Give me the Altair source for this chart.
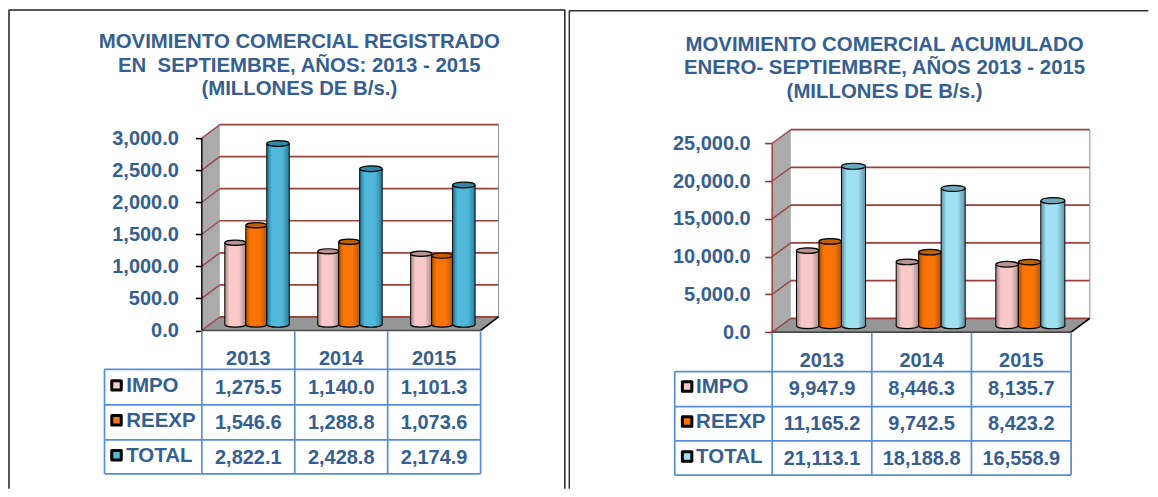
import altair as alt
import pandas as pd

YEARS = ["2013", "2014", "2015"]
SERIES = ["IMPO", "REEXP", "TOTAL"]

LEFT_IMPO = [1275.5, 1140.0, 1101.3]
LEFT_REEXP = [1546.6, 1288.8, 1073.6]
LEFT_TOTAL = [2822.1, 2428.8, 2174.9]
LEFT_TICKS = [0, 500, 1000, 1500, 2000, 2500, 3000]
LEFT_TITLE = ["MOVIMIENTO COMERCIAL REGISTRADO", "EN \u00a0SEPTIEMBRE, AÑOS: 2013 - 2015", "(MILLONES DE B/s.)"]

RIGHT_IMPO = [9947.9, 8446.3, 8135.7]
RIGHT_REEXP = [11165.2, 9742.5, 8423.2]
RIGHT_TOTAL = [21113.1, 18188.8, 16558.9]
RIGHT_TICKS = [0, 5000, 10000, 15000, 20000, 25000]
RIGHT_TITLE = ["MOVIMIENTO COMERCIAL ACUMULADO", "ENERO- SEPTIEMBRE, AÑOS 2013 - 2015", "(MILLONES DE B/s.)"]

FONT = "Liberation Sans"
BLUE = "#365F91"
GRID = "#953735"
TABLE = "#558ED5"
TOP_PX, BOT_PX = 120, 340


def grad(edge_l, mid, edge_r):
    return alt.Gradient(
        gradient="linear", x1=0, x2=1, y1=0, y2=0,
        stops=[
            alt.GradientStop(offset=0, color=edge_l),
            alt.GradientStop(offset=0.22, color=mid),
            alt.GradientStop(offset=0.68, color=mid),
            alt.GradientStop(offset=1, color=edge_r),
        ],
    )


def panel(g):
    left, w = g["left"], g["width"]
    h = BOT_PX - TOP_PX
    colw = w / 3
    k = (g["y0"] - g["ymax"]) / g["vmax"]

    def X(px):
        return (px - left) / colw

    def V(py):
        return (g["y0"] - py) / k

    xs = alt.Scale(domain=[0, 3], nice=False, zero=False)
    ys = alt.Scale(domain=[V(BOT_PX), V(TOP_PX)], nice=False, zero=False)
    yaxis = alt.Axis(
        values=g["ticks"], format=",.1f", domain=False, grid=False, title=None,
        tickColor=g["axis_color"], tickWidth=1.6, tickSize=g["tick"], labelPadding=g["pad"],
        labelFont=FONT, labelFontSize=20, labelFontWeight="bold", labelColor=BLUE,
        labelOverlap=False, labelFlush=False, labelBound=False,
    )
    ex = alt.X("x:Q", scale=xs, axis=None)
    ey = alt.Y("y:Q", scale=ys, axis=yaxis, title=None)

    dx, dy = g["dx"], g["dy"]
    right = left + w
    layers = []

    def lines(rows, color, width, opacity=1.0):
        df = pd.DataFrame(rows, columns=["x", "y", "g"])
        return alt.Chart(df).mark_line(color=color, strokeWidth=width, opacity=opacity, clip=False,
                                       strokeJoin="bevel").encode(
            x=ex, y=ey, detail="g:N", order="o:Q"
        ).transform_window(o="row_number()", groupby=["g"])

    # side wall
    wall = pd.DataFrame({
        "x": [X(left), X(left + dx)],
        "y": [V(g["ymax"]), V(g["ymax"] - dy)],
        "y2": [V(g["y0"]), V(g["y0"] - dy)],
    })
    layers.append(alt.Chart(wall).mark_area(color="#ABABAB", clip=False).encode(x=ex, y=ey, y2="y2:Q"))
    # floor
    floor = pd.DataFrame({
        "x": [X(left), X(left + dx), X(right), X(right + dx)],
        "y": [V(g["y0"]), V(g["y0"] - dy), V(g["y0"] - dy), V(g["y0"] - dy)],
        "y2": [V(g["y0"]), V(g["y0"]), V(g["y0"]), V(g["y0"] - dy)],
    })
    layers.append(alt.Chart(floor).mark_area(color="#969696", clip=False).encode(x=ex, y=ey, y2="y2:Q"))

    # back wall grid lines and their diagonals
    back, diag = [], []
    for i, t in enumerate(g["ticks"]):
        py = g["y0"] - t * k
        back += [(X(left + dx), V(py - dy), i), (X(right + dx), V(py - dy), i)]
        diag += [(X(left), V(py), i), (X(left + dx), V(py - dy), i)]
    layers.append(lines(back, GRID, 1.7, 0.95))
    layers.append(lines(diag, GRID, 1.4, 0.85))
    layers.append(lines(
        [(X(right + dx), V(g["ymax"] - dy), 0), (X(right + dx), V(g["y0"] - dy), 0)],
        "#8C8C8C", 1.0))
    # front axis line, floor edges
    layers.append(lines([(X(left), V(g["ymax"]), 0), (X(left), V(g["y0"]), 0)], g["axis_color"], 1.4))
    layers.append(lines([(X(left), V(g["y0"]), 0), (X(right), V(g["y0"]), 0)], "#4A4A4A", 1.6))
    layers.append(lines([(X(right), V(g["y0"]), 0), (X(right + dx), V(g["y0"] - dy), 0)], "black", 1.6))

    # cylinders, back to front in drawing order
    CAP = "M-1,0 A1,0.25 0 1 1 1,0 A1,0.25 0 1 1 -1,0 Z"
    base_v = V(g["base"])
    for si, s in enumerate(SERIES):
        style = g["styles"][si]
        x0, x1 = style["span"]
        df = pd.DataFrame({
            "i": range(3),
            "v": g["values"][si],
        })
        df["x"] = df["i"] + X(left + x0)
        df["x2"] = df["i"] + X(left + x1)
        df["xm"] = (df["x"] + df["x2"]) / 2
        df["y"] = base_v + df["v"]
        df["y2"] = base_v
        df["b"] = base_v
        fill = grad(*style["grad"])
        size = (x1 - x0) ** 2
        emx = alt.X("xm:Q", scale=xs, axis=None)
        layers.append(alt.Chart(df).mark_point(shape=CAP, size=size, filled=True, fill=fill, stroke="black",
                                               strokeWidth=1.2, opacity=1, clip=False).encode(
            x=emx, y=alt.Y("b:Q", scale=ys, axis=yaxis, title=None)))
        layers.append(alt.Chart(df).mark_rect(fill=fill, clip=False).encode(x=ex, x2="x2:Q", y=ey, y2="y2:Q"))
        layers.append(alt.Chart(df).mark_rule(color="black", strokeWidth=1.0, clip=False).encode(x=ex, y=ey, y2="y2:Q"))
        layers.append(alt.Chart(df).mark_rule(color="black", strokeWidth=1.0, clip=False).encode(
            x=alt.X("x2:Q", scale=xs, axis=None), y=ey, y2="y2:Q"))
        layers.append(alt.Chart(df).mark_point(shape=CAP, size=size, filled=True, fill=style["cap"], stroke="black",
                                               strokeWidth=1.2, opacity=1, clip=False).encode(x=emx, y=ey))

    # data table grid
    rules = []
    for c in range(4):
        rules.append({"x": float(c), "x2": float(c), "y": V(g["y0"] + 1), "y2": V(g["rows"][-1])})
    for r in g["rows"]:
        rules.append({"x": X(g["tleft"]), "x2": 3.0, "y": V(r), "y2": V(r)})
    rules.append({"x": X(g["tleft"]), "x2": X(g["tleft"]), "y": V(g["rows"][0]), "y2": V(g["rows"][-1])})
    layers.append(alt.Chart(pd.DataFrame(rules)).mark_rule(color=TABLE, strokeWidth=1.7, clip=False).encode(
        x=ex, x2="x2:Q", y=ey, y2="y2:Q"))

    txt = dict(font=FONT, fontSize=20, fontWeight="bold", color=BLUE, clip=False)
    title_df = pd.DataFrame({"x": [X(g["title_x"])] * 3, "y": [V(p) for p in g["title_y"]], "t": g["title"]})
    layers.append(alt.Chart(title_df).mark_text(**{**txt, "fontSize": 20.4}).encode(x=ex, y=ey, text="t:N"))
    year_df = pd.DataFrame({"x": [0.5, 1.5, 2.5], "y": [V(g["year_y"])] * 3, "t": YEARS})
    layers.append(alt.Chart(year_df).mark_text(**txt).encode(x=ex, y=ey, text="t:N"))
    cells = []
    for si in range(3):
        for c in range(3):
            cells.append({"x": c + 0.5, "y": V(g["val_y"][si]), "t": f"{g['values'][si][c]:,.1f}"})
    layers.append(alt.Chart(pd.DataFrame(cells)).mark_text(**txt).encode(x=ex, y=ey, text="t:N"))
    names = pd.DataFrame({"x": [X(g["name_x"])] * 3, "y": [V(p) for p in g["name_y"]], "t": SERIES})
    layers.append(alt.Chart(names).mark_text(align="left", **{**txt, "fontSize": 20.5}).encode(x=ex, y=ey, text="t:N"))
    for si in range(3):
        key = pd.DataFrame({"x": [X(g["key_x"])], "y": [V(g["key_y"][si])]})
        layers.append(alt.Chart(key).mark_point(shape="square", size=90, filled=True, fill=g["key_fill"][si],
                                                stroke="black", strokeWidth=3, strokeJoin="round", opacity=1,
                                                clip=False).encode(x=ex, y=ey))

    # page frame lines
    layers.append(lines(g["frame"](X, V), g["frame_color"], 1.5))

    return alt.layer(*layers).properties(width=w, height=h)


def left_frame(X, V):
    return [(X(8.7), V(488), 0), (X(8.7), V(8.7), 0), (X(565), V(8.7), 0), (X(565), V(488), 0)]


def right_frame(X, V):
    return [(X(569.5), V(488), 0), (X(569.5), V(9.5), 0), (X(1149), V(9.5), 0)]


PINK = ("#A58585", "#F9C8C8", "#A88C8C")
ORANGE = ("#A85200", "#F97306", "#B05800")

left = dict(
    left=201.7, width=279, y0=329.5, ymax=137.0, vmax=3000, dx=18, dy=13.5, base=323.5,
    ticks=LEFT_TICKS, tick=6.5, pad=17, title=LEFT_TITLE, title_x=299.3, title_y=[41, 64.5, 88],
    values=[LEFT_IMPO, LEFT_REEXP, LEFT_TOTAL],
    styles=[
        dict(span=(23, 44), grad=PINK, cap="#B89494"),
        dict(span=(44, 65), grad=ORANGE, cap="#C06000"),
        dict(span=(65, 87.5), grad=("#24708C", "#50B8D8", "#2A7E9C"), cap="#2F88A6"),
    ],
    rows=[368.5, 404, 439, 473], tleft=104.3, year_y=358, val_y=[387, 422, 457],
    name_x=126, name_y=[385, 420, 455], key_x=116.3, key_y=[384.5, 419.5, 454.5],
    key_fill=["#F9C8C8", "#F97306", "#50B8D8"],
    frame=left_frame, frame_color="#222222", axis_color="black",
)
right = dict(
    left=772.5, width=299.25, y0=331.2, ymax=142.2, vmax=25000, dx=18.75, dy=13.7, base=324.8,
    ticks=RIGHT_TICKS, tick=7.5, pad=14.5, title=RIGHT_TITLE, title_x=885, title_y=[44, 67, 91],
    values=[RIGHT_IMPO, RIGHT_REEXP, RIGHT_TOTAL],
    styles=[
        dict(span=(24.4, 46.9), grad=PINK, cap="#B89494"),
        dict(span=(46.9, 69.4), grad=ORANGE, cap="#C06000"),
        dict(span=(69.4, 93.5), grad=("#5A8FA2", "#9FE0F2", "#5F94A6"), cap="#6CA9BD"),
    ],
    rows=[370.7, 405.7, 440, 474.3], tleft=675, year_y=360, val_y=[388, 423, 458],
    name_x=696.4, name_y=[386, 421, 456], key_x=687.4, key_y=[385.7, 420.7, 455.7],
    key_fill=["#F9C8C8", "#F97306", "#9FE0F2"],
    frame=right_frame, frame_color="#333333", axis_color="#953735",
)

chart = (
    alt.hconcat(panel(left), panel(right), spacing=291.8, bounds="flush")
    .properties(background="white", padding=0)
    .configure_view(stroke=None)
)
chart.save("out.html", embed_options={"renderer": "svg", "actions": False})
